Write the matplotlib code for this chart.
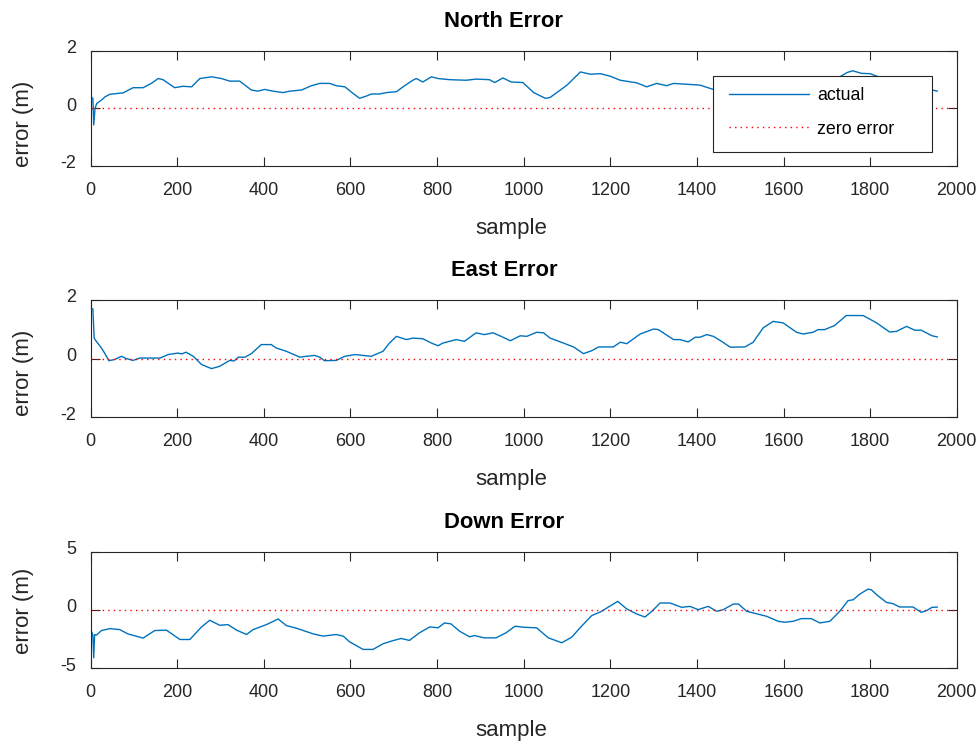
import matplotlib
matplotlib.use("Agg")
import matplotlib.pyplot as plt
import matplotlib.transforms as mtransforms
from matplotlib.patches import Rectangle

# ---------------- data ----------------
north_x = [0, 5, 7, 10, 14, 25, 33, 44, 75, 98, 121, 140, 156, 167, 194, 213, 233, 252, 279, 302,
           321, 344, 371, 386, 402, 421, 444, 460, 487, 510, 529, 552, 567, 587, 606, 621, 637, 648,
           667, 683, 706, 725, 744, 752, 767, 787, 802, 829, 867, 890, 921, 933, 952, 971, 998, 1023,
           1050, 1061, 1100, 1131, 1154, 1177, 1200, 1223, 1261, 1284, 1307, 1330, 1346, 1377, 1407,
           1438, 1460, 1500, 1550, 1600, 1650, 1700, 1730, 1747, 1760, 1780, 1800, 1816, 1850, 1900,
           1943, 1955]
north_y = [0.40, 0.35, -0.58, 0.0, 0.17, 0.29, 0.40, 0.49, 0.54, 0.72, 0.72, 0.87, 1.04, 1.0, 0.72,
           0.77, 0.75, 1.04, 1.10, 1.04, 0.95, 0.95, 0.64, 0.60, 0.66, 0.60, 0.55, 0.60, 0.64, 0.79,
           0.87, 0.87, 0.79, 0.75, 0.52, 0.35, 0.43, 0.50, 0.50, 0.55, 0.58, 0.79, 0.98, 1.04, 0.92,
           1.10, 1.04, 1.0, 0.98, 1.02, 1.0, 0.90, 1.06, 0.92, 0.90, 0.55, 0.35, 0.38, 0.81, 1.27,
           1.19, 1.21, 1.12, 0.98, 0.89, 0.75, 0.87, 0.79, 0.87, 0.84, 0.81, 0.66, 0.70, 0.60, 0.70,
           0.75, 0.80, 0.90, 1.10, 1.25, 1.31, 1.22, 1.21, 1.12, 0.95, 0.80, 0.64, 0.60]

east_x = [0, 5, 8, 13, 25, 32, 42, 55, 71, 83, 98, 113, 136, 160, 179, 202, 210, 220, 237, 256, 279,
          298, 321, 331, 341, 356, 371, 394, 417, 429, 452, 483, 498, 517, 529, 540, 567, 587, 610,
          629, 648, 675, 690, 706, 729, 744, 767, 787, 802, 813, 844, 863, 890, 909, 929, 948, 969,
          992, 1007, 1030, 1046, 1061, 1092, 1115, 1138, 1157, 1173, 1207, 1223, 1238, 1269, 1300,
          1311, 1346, 1361, 1380, 1396, 1407, 1423, 1438, 1457, 1477, 1511, 1530, 1553, 1576, 1599,
          1630, 1645, 1668, 1680, 1695, 1718, 1745, 1784, 1815, 1845, 1861, 1884, 1903, 1918, 1943,
          1955]
east_y = [1.70, 1.70, 0.70, 0.59, 0.36, 0.19, -0.07, -0.03, 0.08, 0.0, -0.06, 0.02, 0.02, 0.02, 0.14,
          0.19, 0.16, 0.22, 0.08, -0.20, -0.34, -0.26, -0.06, -0.08, 0.05, 0.05, 0.17, 0.48, 0.48,
          0.36, 0.25, 0.05, 0.08, 0.11, 0.05, -0.07, -0.06, 0.08, 0.14, 0.11, 0.08, 0.25, 0.53, 0.76,
          0.65, 0.70, 0.68, 0.53, 0.44, 0.53, 0.65, 0.59, 0.88, 0.82, 0.88, 0.76, 0.61, 0.78, 0.76,
          0.90, 0.88, 0.70, 0.53, 0.40, 0.17, 0.27, 0.40, 0.40, 0.56, 0.51, 0.84, 1.01, 0.99, 0.65,
          0.65, 0.57, 0.73, 0.73, 0.82, 0.76, 0.59, 0.39, 0.40, 0.56, 1.05, 1.27, 1.22, 0.90, 0.84,
          0.90, 0.99, 0.99, 1.13, 1.47, 1.47, 1.22, 0.91, 0.93, 1.10, 0.97, 0.97, 0.78, 0.74]

down_x = [0, 3, 5, 7, 9, 13, 25, 44, 67, 86, 121, 148, 175, 206, 229, 256, 275, 298, 317, 337, 360,
          375, 406, 433, 452, 475, 514, 537, 567, 583, 598, 629, 652, 675, 694, 717, 736, 759, 783,
          802, 817, 832, 852, 875, 886, 909, 936, 959, 980, 1000, 1030, 1057, 1088, 1111, 1130,
          1157, 1177, 1192, 1217, 1238, 1261, 1280, 1296, 1315, 1338, 1365, 1384, 1403, 1426, 1446,
          1461, 1484, 1496, 1515, 1546, 1561, 1588, 1603, 1622, 1641, 1664, 1684, 1707, 1730, 1749,
          1761, 1776, 1795, 1803, 1818, 1838, 1853, 1868, 1899, 1918, 1930, 1943, 1955]
down_y = [-2.53, -1.90, -2.24, -4.10, -2.10, -2.16, -1.76, -1.60, -1.68, -2.05, -2.41, -1.76, -1.73,
          -2.53, -2.53, -1.45, -0.88, -1.31, -1.25, -1.73, -2.10, -1.68, -1.25, -0.77, -1.34, -1.56,
          -2.05, -2.24, -2.10, -2.24, -2.73, -3.38, -3.38, -2.90, -2.67, -2.44, -2.61, -1.96, -1.45,
          -1.53, -1.11, -1.19, -1.82, -2.30, -2.19, -2.39, -2.39, -1.96, -1.39, -1.48, -1.53, -2.39,
          -2.81, -2.33, -1.53, -0.48, -0.17, 0.17, 0.74, 0.09, -0.34, -0.60, -0.11, 0.60, 0.60, 0.23,
          0.31, 0.03, 0.31, -0.11, 0.03, 0.51, 0.51, -0.11, -0.40, -0.54, -0.97, -1.05, -0.97, -0.74,
          -0.74, -1.11, -0.97, -0.11, 0.80, 0.88, 1.36, 1.79, 1.73, 1.22, 0.65, 0.54, 0.26, 0.26,
          -0.20, -0.06, 0.23, 0.25]

zero_x = [0, 2000]
zero_y = [0, 0]

titles = ["North Error", "East Error", "Down Error"]
ylims = [(-2, 2), (-2, 2), (-5, 5)]
yticks = [[-2, 0, 2], [-2, 0, 2], [-5, 0, 5]]
xticks = list(range(0, 2001, 200))
legend_labels = ["actual", "zero error"]

# ---------------- style ----------------
plt.rcParams['font.family'] = ['Liberation Sans', 'DejaVu Sans']
plt.rcParams['axes.unicode_minus'] = False
BLUE = '#0072BD'
AXC = '#262626'

W, H = 976, 742
fig = plt.figure(figsize=(W / 100, H / 100), dpi=100)

left, right = 90.7, 956.7
panels_px = [(51, 165.7), (300, 417.3), (551.7, 668.3)]
ylabel_center_px = [124, 373, 611]
series = [(north_x, north_y), (east_x, east_y), (down_x, down_y)]

for i, ((top, bot), (sx, sy)) in enumerate(zip(panels_px, series)):
    ax = fig.add_axes([left / W, 1 - bot / H, (right - left) / W, (bot - top) / H])
    hgt = bot - top
    l1, = ax.plot(sx, sy, color=BLUE, lw=1.0, label=legend_labels[0], zorder=2)
    l2, = ax.plot(zero_x, zero_y, color='red', lw=1.0, linestyle=(0, (1, 3)),
                  label=legend_labels[1], zorder=2)
    ax.set_xlim(0, 2000)
    ax.set_ylim(*ylims[i])
    ax.set_xticks(xticks)
    ax.set_yticks(yticks[i])
    ax.tick_params(direction='in', length=6.3, width=0.8, top=True, right=True,
                   labelsize=13, colors=AXC)
    ax.tick_params(axis='x', pad=11.5)
    ax.tick_params(axis='y', pad=10.5)
    off = mtransforms.ScaledTranslation(0, 3 / 72, fig.dpi_scale_trans)
    for lab in ax.get_yticklabels():
        lab.set_transform(lab.get_transform() + off)
    for s in ax.spines.values():
        s.set_color(AXC)
        s.set_linewidth(0.8)
    ax.set_title(titles[i], fontsize=15.8, fontweight='bold', pad=17, color='black',
                 x=(504 - left) / (right - left))
    ax.set_xlabel('sample', fontsize=16, color=AXC)
    ax.xaxis.set_label_coords((511.5 - left) / (right - left), -52.0 / hgt)
    ax.set_ylabel('error (m)', fontsize=16, color=AXC)
    ax.yaxis.set_label_coords((34 - left) / (right - left), (bot - ylabel_center_px[i]) / hgt)
    if i == 0:
        fx0 = (713.3 - left) / (right - left)
        fx1 = (932.3 - left) / (right - left)
        fy0 = (bot - 151.7) / hgt
        fy1 = (bot - 75.7) / hgt
        ax.add_patch(Rectangle((fx0, fy0), fx1 - fx0, fy1 - fy0, transform=ax.transAxes,
                               facecolor='white', edgecolor=AXC, lw=0.8, zorder=4))
        hx = (729 - left) / (right - left)
        hy = (bot - 112.5) / hgt
        leg = ax.legend(handles=[l1, l2], loc='center left', bbox_to_anchor=(hx, hy),
                        borderaxespad=0, borderpad=0, frameon=False, fontsize=12.8,
                        handlelength=4.5, handletextpad=0.47, labelspacing=0.92)
        leg.set_zorder(5)

fig.savefig('out.png', dpi=100)
